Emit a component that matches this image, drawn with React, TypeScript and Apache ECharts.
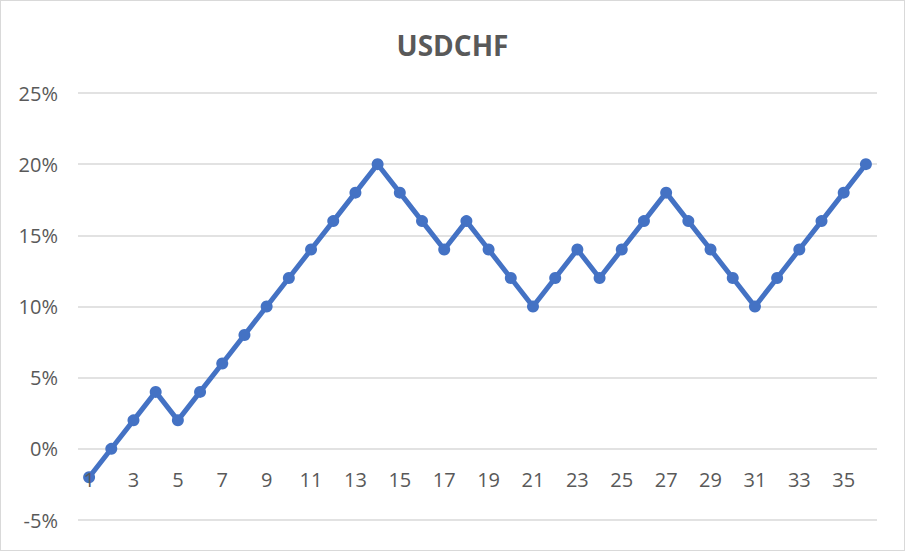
import React, { useEffect, useRef } from "react";
import * as echarts from "echarts";

const title = "USDCHF";
const categories: string[] = Array.from({ length: 36 }, (_, i) => String(i + 1));
const values: number[] = [
  -2, 0, 2, 4, 2, 4, 6, 8, 10, 12, 14, 16, 18, 20, 18, 16, 14, 16, 14, 12, 10, 12,
  14, 12, 14, 16, 18, 16, 14, 12, 10, 12, 14, 16, 18, 20,
];
const yTicks = { min: -5, max: 25, interval: 5 };

const CHART_H = 549;
const GRID_TOP = 92;
const GRID_BOTTOM = 30;

export default function App() {
  const ref = useRef<HTMLDivElement>(null);
  useEffect(() => {
    document.body.style.margin = "0";
    const chart = echarts.init(ref.current!, null, { renderer: "svg" });
    const font = "'Open Sans', 'Liberation Sans', sans-serif";
    const gridH = CHART_H - GRID_TOP - GRID_BOTTOM;
    const zeroOffset = ((0 - yTicks.min) / (yTicks.max - yTicks.min)) * gridH;
    chart.setOption({
      animation: false,
      title: {
        text: title,
        left: "center",
        top: 25,
        textStyle: { color: "#595959", fontSize: 28, fontWeight: "bold", fontFamily: font },
      },
      grid: {
        left: 77,
        right: 27,
        top: GRID_TOP,
        bottom: GRID_BOTTOM,
        containLabel: false,
        outerBoundsMode: "none",
      },
      xAxis: {
        type: "category",
        data: categories,
        boundaryGap: true,
        offset: -zeroOffset,
        z: 10,
        axisLine: { show: false, onZero: false },
        axisTick: { show: false },
        axisLabel: {
          interval: 1,
          color: "#595959",
          fontSize: 20,
          fontFamily: font,
          margin: 21,
        },
      },
      yAxis: {
        type: "value",
        min: yTicks.min,
        max: yTicks.max,
        interval: yTicks.interval,
        axisLine: { show: false },
        axisTick: { show: false },
        splitLine: { lineStyle: { color: "#d9d9d9", width: 1.5 } },
        axisLabel: {
          formatter: "{value}%",
          color: "#595959",
          fontSize: 20,
          fontFamily: font,
          margin: 20,
        },
      },
      series: [
        {
          type: "line",
          data: values,
          symbol: "circle",
          symbolSize: 12,
          lineStyle: { color: "#4472C4", width: 5 },
          itemStyle: { color: "#4472C4" },
          z: 3,
        },
      ],
    });
    return () => chart.dispose();
  }, []);
  return (
    <div
      style={{
        position: "absolute",
        left: 0,
        top: 0,
        width: 903,
        height: 549,
        border: "1px solid #d9d9d9",
        background: "#fff",
      }}
    >
      <div ref={ref} style={{ width: 903, height: CHART_H }} />
    </div>
  );
}
